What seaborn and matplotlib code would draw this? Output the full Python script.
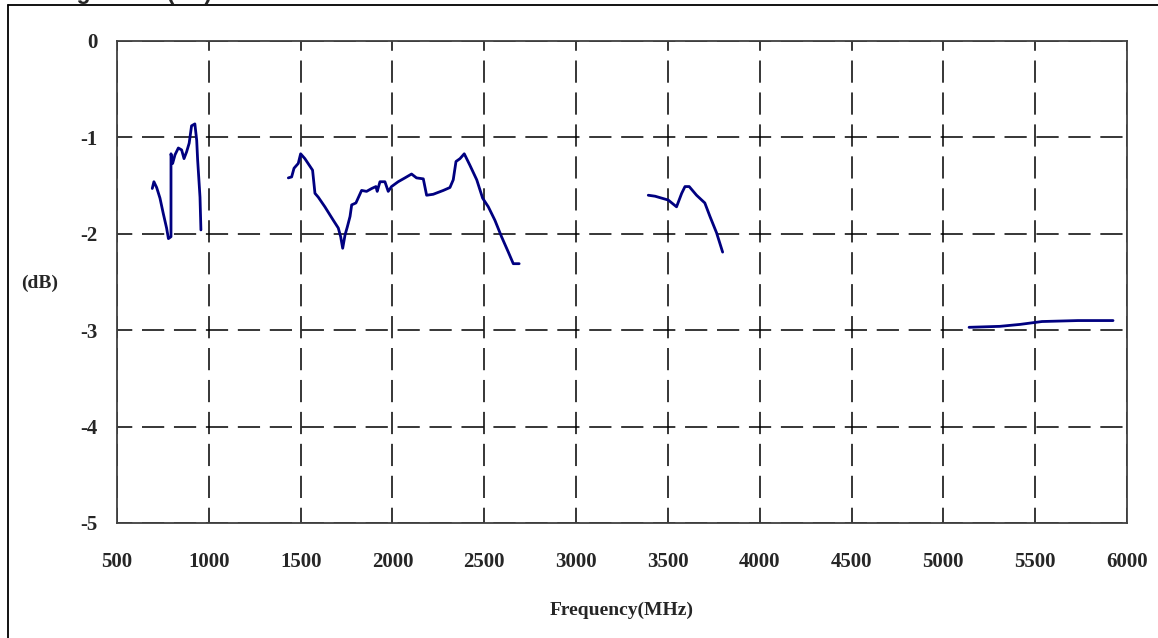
import matplotlib
matplotlib.use("Agg")
import matplotlib.pyplot as plt
import seaborn as sns
import pandas as pd
from matplotlib.lines import Line2D

# ---- data ----
freq_band1 = [692, 701, 716, 734, 752, 770, 780, 794, 794, 803, 816, 834, 852, 865, 879, 893, 906, 924, 934, 939, 952, 957]
gain_band1 = [-1.53, -1.46, -1.52, -1.63, -1.79, -1.94, -2.05, -2.03, -1.17, -1.27, -1.18, -1.11, -1.13, -1.22, -1.15, -1.06, -0.88, -0.86, -1.03, -1.23, -1.62, -1.96]

freq_band2 = [1433, 1451, 1464, 1487, 1500, 1523, 1565, 1578, 1596, 1632, 1678, 1705, 1718, 1729, 1742, 1754, 1769, 1778, 1801, 1832, 1859, 1887, 1910, 1917, 1932, 1959, 1977, 1995, 2031, 2068, 2104, 2131, 2168, 2186, 2222, 2277, 2313, 2331, 2346, 2368, 2391, 2422, 2459, 2491, 2522, 2558, 2594, 2631, 2658, 2690]
gain_band2 = [-1.42, -1.41, -1.32, -1.27, -1.17, -1.22, -1.34, -1.58, -1.62, -1.72, -1.86, -1.94, -2.03, -2.15, -2.01, -1.93, -1.82, -1.70, -1.68, -1.55, -1.56, -1.53, -1.51, -1.56, -1.46, -1.46, -1.56, -1.51, -1.46, -1.42, -1.38, -1.42, -1.43, -1.60, -1.59, -1.55, -1.52, -1.44, -1.25, -1.22, -1.17, -1.29, -1.44, -1.63, -1.72, -1.86, -2.03, -2.19, -2.31, -2.31]

freq_band3 = [3393, 3430, 3466, 3502, 3547, 3575, 3593, 3616, 3656, 3701, 3729, 3765, 3798]
gain_band3 = [-1.60, -1.61, -1.63, -1.65, -1.72, -1.58, -1.51, -1.51, -1.60, -1.68, -1.82, -1.99, -2.19]

freq_band4 = [5140, 5308, 5417, 5537, 5733, 5924]
gain_band4 = [-2.97, -2.96, -2.94, -2.91, -2.90, -2.90]

x_ticks = [500, 1000, 1500, 2000, 2500, 3000, 3500, 4000, 4500, 5000, 5500, 6000]
y_ticks = [0, -1, -2, -3, -4, -5]

title_text = "Average Gain (dB)"
x_label = "Frequency(MHz)"
y_label = "(dB)"

# ---- figure ----
sns.set_style("white")
plt.rcParams["lines.scale_dashes"] = False

W, H = 1158, 638
fig = plt.figure(figsize=(W / 100, H / 100), dpi=100)
ax = fig.add_axes([117 / W, 1 - 523 / H, 1010 / W, 482 / H])

line_color = "#000080"
bands = [(freq_band1, gain_band1), (freq_band2, gain_band2),
         (freq_band3, gain_band3), (freq_band4, gain_band4)]
for fx, gy in bands:
    df = pd.DataFrame({"freq": fx, "gain": gy})
    sns.lineplot(data=df, x="freq", y="gain", ax=ax, sort=False,
                 estimator=None, color=line_color, linewidth=2.0)

ax.set_xlim(500, 6000)
ax.set_ylim(-5, 0)
ax.set_xticks(x_ticks)
ax.set_yticks(y_ticks)

serif = ["Liberation Serif", "DejaVu Serif"]
ax.set_xticklabels([str(t) for t in x_ticks], fontfamily=serif, fontweight="bold", fontsize=15)
ax.set_yticklabels([str(t) for t in y_ticks], fontfamily=serif, fontweight="bold", fontsize=15)
ax.tick_params(axis="x", length=0, pad=21)
ax.tick_params(axis="y", length=0, pad=14)
ax.set_xlabel("")
ax.set_ylabel("")

ax.grid(True, color="black", linewidth=1.1, linestyle=(5, (16, 7)))
ax.set_axisbelow(True)
for s in ax.spines.values():
    s.set_color("#404040")
    s.set_linewidth(1.3)
    s.set_visible(True)

fig.text(622 / W, 1 - 610 / H, x_label, ha="center", va="center",
         fontfamily=serif, fontweight="bold", fontsize=14)
fig.text(40 / W, 1 - 283 / H, y_label, ha="center", va="center",
         fontfamily=serif, fontweight="bold", fontsize=14)

# title, cut off at the very top as in the reference
fig.text(14 / W, 1 + 1.5 / H, title_text, ha="left", va="baseline",
         fontfamily=["Liberation Sans", "DejaVu Sans"], fontweight="bold", fontsize=16.5)

# outer frame (left and top edges visible)
fig.add_artist(Line2D([8 / W, 8 / W], [0, 1 - 5 / H], transform=fig.transFigure,
                      color="black", linewidth=1.3))
fig.add_artist(Line2D([8 / W, 1], [1 - 5 / H, 1 - 5 / H], transform=fig.transFigure,
                      color="black", linewidth=1.3))

fig.savefig("out.png", dpi=100)
